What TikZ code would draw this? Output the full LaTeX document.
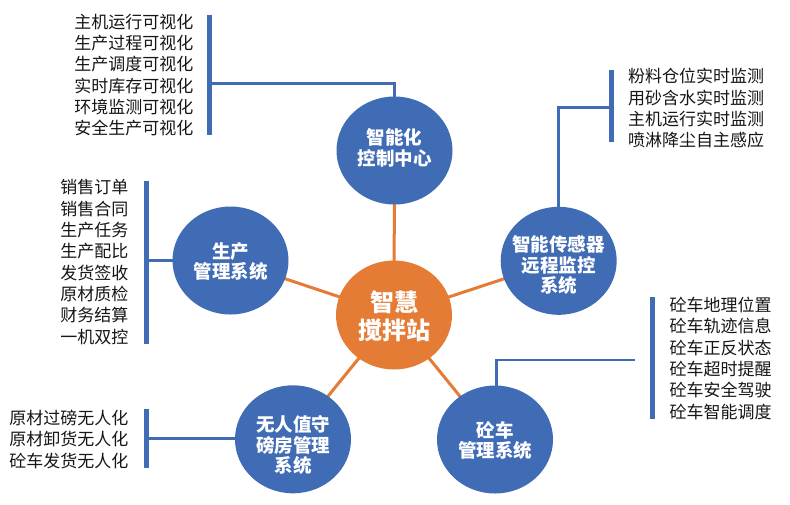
\documentclass[tikz,border=0pt]{standalone}
\usepackage{fontspec}
\setmainfont{Noto Sans CJK SC}
\usetikzlibrary{shapes.geometric}
\definecolor{nodeblue}{RGB}{64,107,181}
\definecolor{hubor}{RGB}{228,124,53}
\definecolor{txt}{RGB}{22,22,22}
\pgfdeclarelayer{back}
\pgfdeclarelayer{bg}
\pgfsetlayers{back,bg,main}
\begin{document}
\begin{tikzpicture}[x=1pt,y=-1pt,
  bub/.style={ellipse, fill=nodeblue, minimum width=116pt, minimum height=108pt, inner sep=0pt},
  hub/.style={ellipse, fill=hubor, minimum width=116pt, minimum height=109pt, inner sep=0pt},
  bubtext/.style={text=white, font=\fontsize{18.5}{20.5}\selectfont\bfseries, align=center, inner sep=0pt},
  hubtext/.style={text=white, font=\fontsize{24}{28.3}\selectfont\bfseries, align=center, inner sep=0pt},
  spoke/.style={draw=hubor, line width=3pt},
  link/.style={draw=nodeblue, line width=2.6pt},
  bar/.style={draw=nodeblue, line width=5pt},
  listr/.style={text=txt, font=\fontsize{17}{21.3}\selectfont, align=right, inner sep=0pt, anchor=east},
  listl/.style={text=txt, font=\fontsize{17}{21.3}\selectfont, align=left, inner sep=0pt, anchor=west}]
\useasboundingbox (0,0) rectangle (790,504);
\begin{pgfonlayer}{back}
\fill[white] (0,0) rectangle (790,504);
\end{pgfonlayer}

% circles
\node[hub] (hub) at (394,315) {};
\node[bub] (ctrl) at (394.5,150.5) {};
\node[bub] (sens) at (558.7,260.8) {};
\node[bub] (truck) at (495,439.5) {};
\node[bub] (weigh) at (293,439.3) {};
\node[bub] (prod) at (230.5,260.5) {};

% spokes
\begin{pgfonlayer}{bg}
\draw[spoke] (hub.center) -- (ctrl.center);
\draw[spoke] (hub.center) -- (sens.center);
\draw[spoke] (hub.center) -- (truck.center);
\draw[spoke] (hub.center) -- (weigh.center);
\draw[spoke] (hub.center) -- (prod.center);
\end{pgfonlayer}

% circle texts
\node[hubtext] (hubt) at (394,316) {智慧\\搅拌站};
\node[bubtext] (ctrlt) at (394.5,148) {智能化\\控制中心};
\node[bubtext] (senst) at (558.7,265) {智能传感器\\远程监控\\系统};
\node[bubtext] (truckt) at (495,440.5) {砼车\\管理系统};
\node[bubtext] (weight) at (293,445) {无人值守\\磅房管理\\系统};
\node[bubtext] (prodt) at (230.5,261.5) {生产\\管理系统};

% bars
\coordinate (ctrlbt) at (209,15);   \coordinate (ctrlbb) at (209,135);
\coordinate (sensbt) at (611,70);   \coordinate (sensbb) at (611,142.3);
\coordinate (prodbt) at (146.5,180.7); \coordinate (prodbb) at (146.5,344);
\coordinate (weighbt) at (146.5,409.3); \coordinate (weighbb) at (146.5,468.3);
\coordinate (truckbt) at (652.5,297.3); \coordinate (truckbb) at (652.5,419.3);
\draw[bar] (ctrlbt) -- (ctrlbb);
\draw[bar] (sensbt) -- (sensbb);
\draw[bar] (prodbt) -- (prodbb);
\draw[bar] (weighbt) -- (weighbb);
\draw[bar] (truckbt) -- (truckbb);

% links
\coordinate (ctrlj) at (211,83.3);
\coordinate (sensj) at (609,107.7);
\coordinate (prodj) at (148.5,260.5);
\coordinate (weighj) at (148.5,438.3);
\coordinate (truckj) at (635,360);
\draw[link] ([yshift=-1pt]ctrl.north) |- (ctrlj);
\draw[link] ([yshift=-1pt]sens.north) |- (sensj);
\draw[link] ([xshift=1pt]prod.west) -- (prodj);
\draw[link] ([xshift=1pt]weigh.west |- weighj) -- (weighj);
\draw[link] ([xshift=1.7pt,yshift=-1pt]truck.north) |- (truckj);

% lists
\node[listr] (ctrll) at (193.5,75) {主机运行可视化\\生产过程可视化\\生产调度可视化\\实时库存可视化\\环境监测可视化\\安全生产可视化};
\node[listl] (sensl) at (628,108.3) {粉料仓位实时监测\\用砂含水实时监测\\主机运行实时监测\\喷淋降尘自主感应};
\node[listr] (prodl) at (128.5,262) {销售订单\\销售合同\\生产任务\\生产配比\\发货签收\\原材质检\\财务结算\\一机双控};
\node[listr] (weighl) at (128.5,439.2) {原材过磅无人化\\原材卸货无人化\\砼车发货无人化};
\node[listl] (truckl) at (669.5,358.3) {砼车地理位置\\砼车轨迹信息\\砼车正反状态\\砼车超时提醒\\砼车安全驾驶\\砼车智能调度};
\end{tikzpicture}
\end{document}
